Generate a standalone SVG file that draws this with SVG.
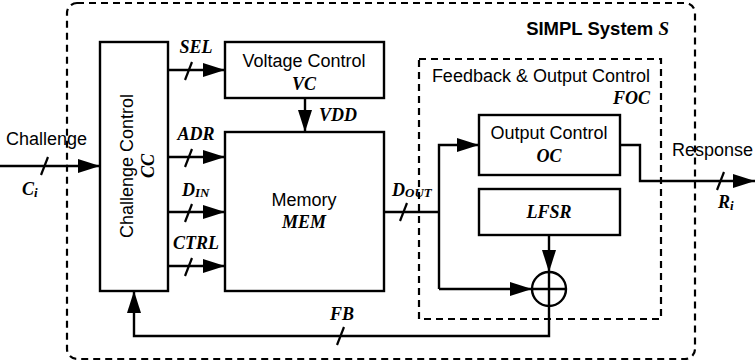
<svg xmlns="http://www.w3.org/2000/svg" width="756" height="364" viewBox="0 0 756 364">
<style>
.box{fill:#fff;stroke:#000;stroke-width:2.4}
.ln{fill:none;stroke:#000;stroke-width:2.4}
.dash{fill:none;stroke:#000;stroke-width:2.2;stroke-dasharray:7,5}
.sl{stroke:#000;stroke-width:2.2}
.t{font-family:"Liberation Sans",Arial,sans-serif;font-size:18px;fill:#000}
.i{font-family:"Liberation Serif","Times New Roman",serif;font-style:italic;font-weight:bold;font-size:18px;fill:#000}
.b{font-family:"Liberation Sans",Arial,sans-serif;font-weight:bold;font-size:18.5px;fill:#000}
.sub{font-size:13px}
</style>
<defs>
<marker id="ah" viewBox="0 0 22 14" refX="22" refY="7" markerWidth="22" markerHeight="14" markerUnits="userSpaceOnUse" orient="auto">
<path d="M0,0 L22,7 L0,14 Z" fill="#000"/>
</marker>
</defs>
<rect x="0" y="0" width="756" height="364" fill="#fff"/>
<g id="system">
<rect class="dash" x="67" y="3" width="628" height="356" rx="10"/>
<text class="b" x="669" y="35" text-anchor="end">SIMPL System <tspan font-family="Liberation Serif,serif" font-style="italic" font-size="19">S</tspan></text>
</g>
<g id="foc">
<rect class="dash" x="419" y="59" width="242" height="260"/>
<text class="t" x="650" y="82" text-anchor="end">Feedback &amp; Output Control</text>
<text class="i" x="650" y="104" text-anchor="end">FOC</text>
</g>
<g id="cc">
<rect class="box" x="100" y="42" width="68" height="249"/>
<text class="t" transform="translate(133,166) rotate(-90)" text-anchor="middle">Challenge Control</text>
<text class="i" transform="translate(154,166) rotate(-90)" text-anchor="middle">CC</text>
</g>
<g id="vc">
<rect class="box" x="225" y="42" width="159" height="56"/>
<text class="t" x="304" y="67" text-anchor="middle">Voltage Control</text>
<text class="i" x="304" y="90" text-anchor="middle">VC</text>
</g>
<g id="mem">
<rect class="box" x="225" y="132" width="159" height="159"/>
<text class="t" x="304" y="206" text-anchor="middle">Memory</text>
<text class="i" x="304" y="228" text-anchor="middle">MEM</text>
</g>
<g id="oc">
<rect class="box" x="479" y="115" width="141" height="60"/>
<text class="t" x="549" y="139" text-anchor="middle">Output Control</text>
<text class="i" x="549" y="162" text-anchor="middle">OC</text>
</g>
<g id="lfsr">
<rect class="box" x="479" y="189" width="141" height="46"/>
<text class="i" x="549" y="218" text-anchor="middle">LFSR</text>
</g>
<g id="xor">
<circle class="box" cx="549" cy="289" r="17"/>
<line class="ln" x1="532" y1="289" x2="566" y2="289"/>
<line class="ln" x1="549" y1="272" x2="549" y2="306"/>
</g>
<g id="connectors">
<line class="ln" x1="0" y1="166" x2="100" y2="166" marker-end="url(#ah)"/>
<line class="sl" x1="41" y1="175" x2="48" y2="157"/>
<line class="ln" x1="168" y1="70" x2="225" y2="70" marker-end="url(#ah)"/>
<line class="sl" x1="185" y1="80" x2="192" y2="62"/>
<line class="ln" x1="168" y1="157" x2="225" y2="157" marker-end="url(#ah)"/>
<line class="sl" x1="185" y1="167" x2="192" y2="149"/>
<line class="ln" x1="168" y1="212" x2="225" y2="212" marker-end="url(#ah)"/>
<line class="sl" x1="185" y1="222" x2="192" y2="204"/>
<line class="ln" x1="168" y1="266" x2="225" y2="266" marker-end="url(#ah)"/>
<line class="sl" x1="185" y1="276" x2="192" y2="258"/>
<line class="ln" x1="305" y1="98" x2="305" y2="132" marker-end="url(#ah)"/>
<polyline class="ln" points="384,212 439,212"/>
<line class="sl" x1="400" y1="221" x2="407" y2="203"/>
<polyline class="ln" points="439,289 439,145 479,145" marker-end="url(#ah)"/>
<line class="ln" x1="439" y1="289" x2="532" y2="289" marker-end="url(#ah)"/>
<line class="ln" x1="549" y1="235" x2="549" y2="272" marker-end="url(#ah)"/>
<polyline class="ln" points="620,145 640,145 640,181 755,181" marker-end="url(#ah)"/>
<line class="sl" x1="717" y1="190" x2="724" y2="172"/>
<polyline class="ln" points="549,306 549,336 134,336 134,291" marker-end="url(#ah)"/>
<line class="sl" x1="337" y1="345" x2="344" y2="327"/>
</g>
<g id="labels">
<text class="t" x="6" y="145">Challenge</text>
<text class="i" x="22" y="195">C<tspan class="sub" dy="2">i</tspan></text>
<text class="i" x="196" y="53" text-anchor="middle">SEL</text>
<text class="i" x="196" y="140" text-anchor="middle">ADR</text>
<text class="i" x="182" y="196">D<tspan class="sub" dy="1">IN</tspan></text>
<text class="i" x="196" y="249" text-anchor="middle">CTRL</text>
<text class="i" x="319" y="121">VDD</text>
<text class="i" x="392" y="196">D<tspan class="sub" dy="1">OUT</tspan></text>
<text class="i" x="342" y="320" text-anchor="middle">FB</text>
<text class="t" x="672" y="156">Response</text>
<text class="i" x="718" y="208">R<tspan class="sub" dy="2">i</tspan></text>
</g>
</svg>
